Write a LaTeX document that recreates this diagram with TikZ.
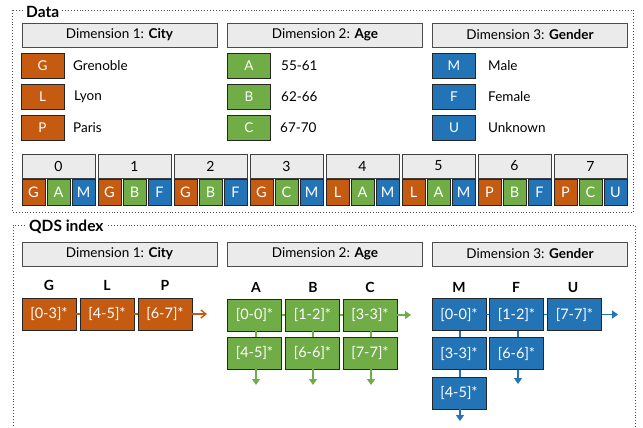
\documentclass[tikz,border=0pt]{standalone}
\usepackage{fontspec}
\setmainfont{Lato}
\usetikzlibrary{arrows.meta}
\definecolor{cOrange}{RGB}{197,90,17}
\definecolor{cGreen}{RGB}{112,173,71}
\definecolor{cBlue}{RGB}{35,116,182}
\definecolor{hdrFill}{RGB}{235,235,235}
\definecolor{frameGray}{RGB}{80,80,80}
\begin{document}
\begin{tikzpicture}[x=1pt,y=-1pt,
  framebox/.style={draw=frameGray,dotted,line width=0.9pt},
  frametitle/.style={fill=white,inner sep=2pt,anchor=west,font=\fontsize{15.5}{17}\selectfont\bfseries},
  hdrbox/.style={draw=black!70,fill=hdrFill,line width=0.8pt,minimum width=195pt,minimum height=24pt,inner sep=0pt,font=\fontsize{13.5}{15}\selectfont},
  idxbox/.style={draw=black!75,fill=hdrFill,line width=0.8pt,minimum width=73pt,minimum height=24pt,inner sep=0pt,font=\fontsize{14}{16}\selectfont},
  colbox/.style={draw=black!85,line width=0.8pt,inner sep=0pt,text=white},
  legbox/.style={colbox,minimum width=43pt,minimum height=25pt,font=\fontsize{13.5}{15}\selectfont},
  legtext/.style={anchor=west,inner sep=0pt,font=\fontsize{13.5}{15}\selectfont},
  cellbox/.style={colbox,minimum width=23pt,minimum height=26pt,font=\fontsize{14.5}{16}\selectfont},
  qbox/.style={colbox,minimum width=54pt,minimum height=32pt,font=\fontsize{14.5}{16}\selectfont},
  qlabel/.style={inner sep=0pt,font=\fontsize{14}{16}\selectfont\bfseries},
  conn/.style={line width=1.4pt},
  barbarrow/.style={conn,-{Straight Barb[length=5pt,width=8pt]}},
  triarrow/.style={conn,-{Triangle[length=6pt,width=8pt]}}
]
\useasboundingbox (0,0) rectangle (643,428);

% ---------------- Data frame ----------------
\draw[framebox] (12,10) rectangle (633,212);
\node[frametitle] (tData) at (24,12) {Data};

\node[hdrbox] (h1) at (119.5,35) {Dimension 1: \textbf{City}};
\node[hdrbox] (h2) at (325,35) {Dimension 2: \textbf{Age}};
\node[hdrbox] (h3) at (530,35) {Dimension 3: \textbf{Gender}};

% legend city
\node[legbox,fill=cOrange] (lg) at (42.5,65.5) {G};
\node[legbox,fill=cOrange] (ll) at (42.5,96.5) {L};
\node[legbox,fill=cOrange] (lp) at (42.5,127.5) {P};
\node[legtext] (tg) at (73,65.5) {Grenoble};
\node[legtext] (tl) at (74,96.5) {Lyon};
\node[legtext] (tp) at (73,127.5) {Paris};
% legend age
\node[legbox,fill=cGreen] (la) at (249,66) {A};
\node[legbox,fill=cGreen] (lb) at (249,97) {B};
\node[legbox,fill=cGreen] (lc) at (249,128) {C};
\node[legtext] (ta) at (281,66) {55-61};
\node[legtext] (tb) at (281,97) {62-66};
\node[legtext] (tc) at (280,128) {67-70};
% legend gender
\node[legbox,fill=cBlue] (lm) at (454,66) {M};
\node[legbox,fill=cBlue] (lf) at (454,97) {F};
\node[legbox,fill=cBlue] (lu) at (454,128) {U};
\node[legtext] (tm) at (488,66) {Male};
\node[legtext] (tf) at (488,97) {Female};
\node[legtext] (tu) at (488,128) {Unknown};

% records
\foreach \i/\c/\a/\g in {0/G/A/M,1/G/B/F,2/G/B/F,3/G/C/M,4/L/A/M,5/L/A/M,6/P/B/F,7/P/C/U}{
  \pgfmathsetmacro{\xs}{22+76*\i}
  \node[idxbox] (r\i) at (\xs+36.5,166) {\i};
  \node[cellbox,fill=cOrange] (rc\i) at (\xs+11.5,192) {\c};
  \node[cellbox,fill=cGreen] (ra\i) at (\xs+36.5,192) {\a};
  \node[cellbox,fill=cBlue] (rg\i) at (\xs+61.5,192) {\g};
}

% ---------------- QDS frame ----------------
\draw[framebox] (13,440) -- (13,225) -- (635,225) -- (635,440);
\node[frametitle] (tQDS) at (27,227) {QDS index};

\node[hdrbox] (q1) at (119.5,254) {Dimension 1: \textbf{City}};
\node[hdrbox] (q2) at (325,254) {Dimension 2: \textbf{Age}};
\node[hdrbox] (q3) at (530,254) {Dimension 3: \textbf{Gender}};

% city
\node[qlabel] (kG) at (49,285) {G};
\node[qlabel] (kL) at (107,285) {L};
\node[qlabel] (kP) at (165,285) {P};
\node[qbox,fill=cOrange] (c1) at (49,314) {[0-3]*};
\node[qbox,fill=cOrange] (c2) at (107,314) {[4-5]*};
\node[qbox,fill=cOrange] (c3) at (165,314) {[6-7]*};
\coordinate (cEnd) at (207,314);
\draw[conn,cOrange] (c1) -- (c2);
\draw[conn,cOrange] (c2) -- (c3);
\draw[barbarrow,cOrange] (c3.east) -- (cEnd);

% age
\node[qlabel] (kA) at (256,287) {A};
\node[qlabel] (kB) at (313,287) {B};
\node[qlabel] (kC) at (370,287) {C};
\node[qbox,fill=cGreen] (a1) at (254.5,315) {[0-0]*};
\node[qbox,fill=cGreen] (a2) at (312.5,315) {[1-2]*};
\node[qbox,fill=cGreen] (a3) at (370,315) {[3-3]*};
\node[qbox,fill=cGreen] (a4) at (254.5,353) {[4-5]*};
\node[qbox,fill=cGreen] (a5) at (312.5,353) {[6-6]*};
\node[qbox,fill=cGreen] (a6) at (370,353) {[7-7]*};
\coordinate (aR) at (411,315);
\coordinate (aD1) at (256,385);
\coordinate (aD2) at (313,385);
\coordinate (aD3) at (371,385);
\draw[conn,cGreen] (a1) -- (a2);
\draw[conn,cGreen] (a2) -- (a3);
\draw[triarrow,cGreen] (a3.east) -- (aR);
\draw[conn,cGreen] ([xshift=1.5pt]a1.south) -- ([xshift=1.5pt]a4.north);
\draw[conn,cGreen] ([xshift=0.5pt]a2.south) -- ([xshift=0.5pt]a5.north);
\draw[conn,cGreen] ([xshift=1pt]a3.south) -- ([xshift=1pt]a6.north);
\draw[triarrow,cGreen] ([xshift=1.5pt]a4.south) -- (aD1);
\draw[triarrow,cGreen] ([xshift=0.5pt]a5.south) -- (aD2);
\draw[triarrow,cGreen] ([xshift=1pt]a6.south) -- (aD3);

% gender
\node[qlabel] (kM) at (459,287) {M};
\node[qlabel] (kF) at (516,287) {F};
\node[qlabel] (kU) at (573,287) {U};
\node[qbox,fill=cBlue] (g1) at (459,314.5) {[0-0]*};
\node[qbox,fill=cBlue] (g2) at (516.5,314.5) {[1-2]*};
\node[qbox,fill=cBlue] (g3) at (574.5,314.5) {[7-7]*};
\node[qbox,fill=cBlue] (g4) at (459,353.5) {[3-3]*};
\node[qbox,fill=cBlue] (g5) at (516.5,353.5) {[6-6]*};
\node[qbox,fill=cBlue] (g6) at (459,393) {[4-5]*};
\coordinate (gR) at (618,314.5);
\coordinate (gD5) at (518,384);
\coordinate (gD6) at (460,421);
\draw[conn,cBlue] (g1) -- (g2);
\draw[conn,cBlue] (g2) -- (g3);
\draw[triarrow,cBlue] (g3.east) -- (gR);
\draw[conn,cBlue] ([xshift=1pt]g1.south) -- ([xshift=1pt]g4.north);
\draw[conn,cBlue] ([xshift=1pt]g4.south) -- ([xshift=1pt]g6.north);
\draw[conn,cBlue] ([xshift=1.5pt]g2.south) -- ([xshift=1.5pt]g5.north);
\draw[triarrow,cBlue] ([xshift=1.5pt]g5.south) -- (gD5);
\draw[triarrow,cBlue] ([xshift=1pt]g6.south) -- (gD6);
\end{tikzpicture}
\end{document}
